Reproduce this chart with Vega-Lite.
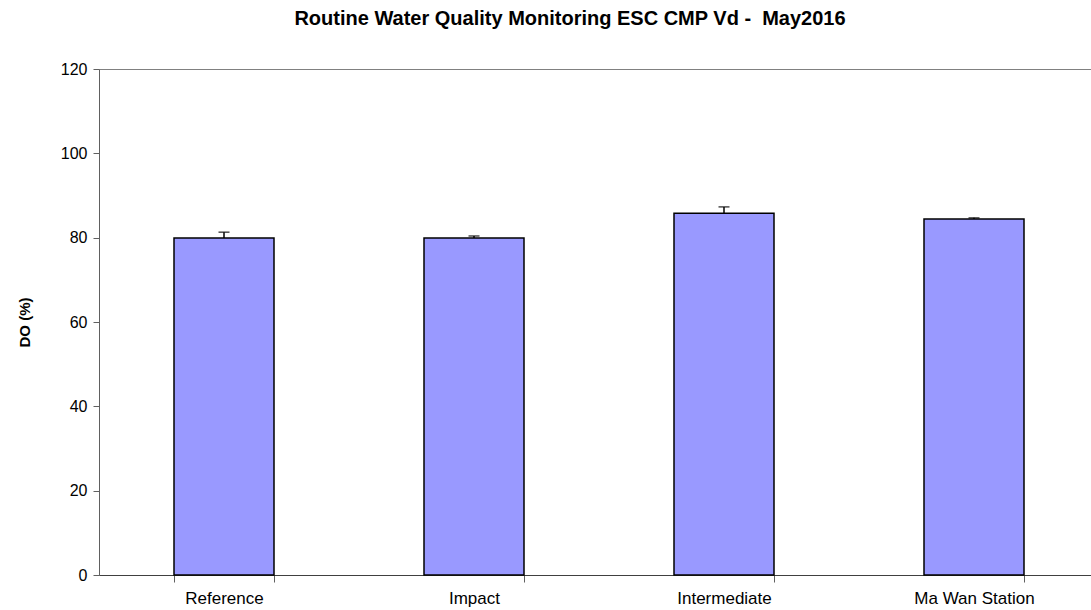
{
  "$schema": "https://vega.github.io/schema/vega-lite/v6.json",
  "autosize": "none",
  "width": 992,
  "height": 506,
  "padding": {"left": 99, "top": 69, "right": 0, "bottom": 35},
  "background": "white",
  "title": {
    "text": "Routine Water Quality Monitoring ESC CMP Vd - \u00a0May2016",
    "font": "Liberation Sans",
    "fontSize": 20,
    "fontWeight": "bold",
    "color": "black",
    "anchor": "middle",
    "dx": -25,
    "offset": 32
  },
  "config": {
    "view": {"stroke": "#808080", "strokeWidth": 1},
    "axis": {
      "labelFont": "Liberation Sans",
      "titleFont": "Liberation Sans",
      "labelFontSize": 16,
      "labelColor": "black",
      "titleColor": "black",
      "grid": false,
      "domainColor": "#606060",
      "tickColor": "#606060"
    }
  },
  "data": {
    "values": [
      {"site": "Reference", "DO": 79.9, "upper": 81.3},
      {"site": "Impact", "DO": 79.9, "upper": 80.4},
      {"site": "Intermediate", "DO": 85.8, "upper": 87.3},
      {"site": "Ma Wan Station", "DO": 84.4, "upper": 84.7}
    ]
  },
  "encoding": {
    "x": {
      "field": "site",
      "type": "nominal",
      "sort": null,
      "scale": {"paddingInner": 0.6, "paddingOuter": 0.3, "range": [0, 1000]},
      "axis": {
        "title": null,
        "labelAngle": 0,
        "labelFontSize": 17,
        "tickBand": "extent",
        "tickSize": 7,
        "labelPadding": 8,
        "domainColor": "#404040"
      }
    }
  },
  "layer": [
    {
      "mark": {"type": "rule", "color": "black", "strokeWidth": 1.5},
      "encoding": {
        "y": {"field": "DO", "type": "quantitative"},
        "y2": {"field": "upper"}
      }
    },
    {
      "mark": {"type": "tick", "color": "black", "size": 11, "thickness": 1.5, "orient": "horizontal"},
      "encoding": {
        "y": {"field": "upper", "type": "quantitative"}
      }
    },
    {
      "mark": {"type": "bar", "fill": "#9999FF", "stroke": "black", "strokeWidth": 1.5},
      "encoding": {
        "y": {
          "field": "DO",
          "type": "quantitative",
          "scale": {"domain": [0, 120]},
          "axis": {
            "title": "DO (%)",
            "titleFontSize": 15,
            "titleFontWeight": "bold",
            "titlePadding": 28,
            "values": [0, 20, 40, 60, 80, 100, 120],
            "tickSize": 6,
            "labelPadding": 6
          }
        }
      }
    }
  ]
}
